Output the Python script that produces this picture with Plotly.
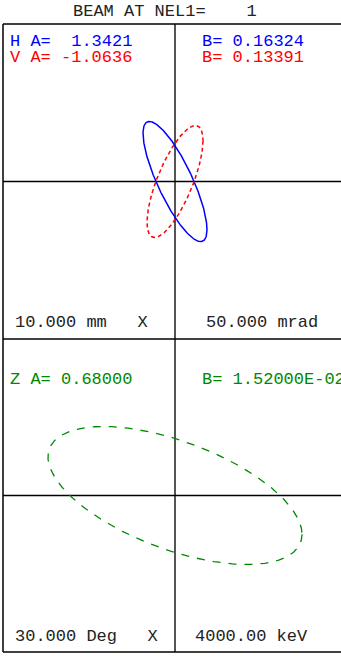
import numpy as np
import plotly.graph_objects as go

# Twiss parameters (alpha, beta) and emittances for each phase plane
h_alpha, h_beta, h_eps = 1.3421, 0.16324, 21.2      # mm, mrad
v_alpha, v_beta, v_eps = -1.0636, 0.13391, 19.8     # mm, mrad
z_alpha, z_beta, z_eps = 0.68000, 1.52000e-02, 32300.0  # deg, keV

# Full-scale half ranges of the two phase-space plots
x_scale_mm, xp_scale_mrad = 10.0, 50.0
z_scale_deg, dw_scale_kev = 30.0, 4000.0

nel = 1

W, H = 341, 658
# frame geometry in pixels
LEFT, CX, TOP, MID, BOT = 3, 175, 24, 339, 652
HALF_W = CX - LEFT


def px(x):
    return x / W


def py(y):
    return (H - y) / H


def ellipse(alpha, beta, eps, n=400):
    phi = np.linspace(0, 2 * np.pi, n)
    x = np.sqrt(eps * beta) * np.cos(phi)
    xp = -np.sqrt(eps / beta) * (alpha * np.cos(phi) + np.sin(phi))
    return x, xp


fig = go.Figure()

hx, hxp = ellipse(h_alpha, h_beta, h_eps)
vx, vxp = ellipse(v_alpha, v_beta, v_eps)
zx, zxp = ellipse(z_alpha, z_beta, z_eps)

fig.add_trace(go.Scatter(x=hx, y=hxp, mode="lines", xaxis="x", yaxis="y",
                         line=dict(color="#0000ff", width=1.5)))
fig.add_trace(go.Scatter(x=vx, y=vxp, mode="lines", xaxis="x", yaxis="y",
                         line=dict(color="#ff0000", width=1.5, dash="4px,3px")))
fig.add_trace(go.Scatter(x=zx, y=zxp, mode="lines", xaxis="x2", yaxis="y2",
                         line=dict(color="#008800", width=1.3, dash="8px,8px")))

right_frac = (W - CX) / HALF_W
hidden = dict(showgrid=False, zeroline=False, showticklabels=False,
              ticks="", showline=False, fixedrange=True)

fig.update_layout(
    width=W, height=H,
    margin=dict(l=0, r=0, t=0, b=0),
    paper_bgcolor="white", plot_bgcolor="white",
    showlegend=False,
    xaxis=dict(domain=[px(LEFT), 1], range=[-x_scale_mm, x_scale_mm * right_frac],
               anchor="y", **hidden),
    yaxis=dict(domain=[py(MID), py(TOP)], range=[-xp_scale_mrad, xp_scale_mrad],
               anchor="x", **hidden),
    xaxis2=dict(domain=[px(LEFT), 1], range=[-z_scale_deg, z_scale_deg * right_frac],
                anchor="y2", **hidden),
    yaxis2=dict(domain=[py(BOT), py(MID)], range=[-dw_scale_kev, dw_scale_kev],
                anchor="x2", **hidden),
)

shapes = []
black = dict(color="black", width=1.5)
# outer frame and panel divider
shapes.append(dict(type="line", xref="paper", yref="paper", x0=px(LEFT), x1=1,
                   y0=py(TOP), y1=py(TOP), line=black))
shapes.append(dict(type="line", xref="paper", yref="paper", x0=px(LEFT), x1=1,
                   y0=py(MID), y1=py(MID), line=black))
shapes.append(dict(type="line", xref="paper", yref="paper", x0=px(LEFT), x1=1,
                   y0=py(BOT), y1=py(BOT), line=black))
shapes.append(dict(type="line", xref="paper", yref="paper", x0=px(LEFT), x1=px(LEFT),
                   y0=py(TOP), y1=py(BOT), line=black))
# vertical centre line through both panels
shapes.append(dict(type="line", xref="x", yref="paper", x0=0, x1=0,
                   y0=py(TOP), y1=py(BOT), layer="below",
                   line=dict(color="#555555", width=2)))
# horizontal centre lines
shapes.append(dict(type="line", xref="paper", yref="y", x0=px(LEFT), x1=1,
                   y0=0, y1=0, layer="below", line=black))
shapes.append(dict(type="line", xref="paper", yref="y2", x0=px(LEFT), x1=1,
                   y0=0, y1=0, layer="below", line=black))
fig.update_layout(shapes=shapes)

FONT = "Liberation Mono, Courier New, monospace"
NB = "\u00a0"


def label(text, x, y, color, anchor="middle"):
    fig.add_annotation(text=text.replace(" ", NB), xref="paper", yref="paper",
                       x=px(x), y=py(y), xanchor="left", yanchor=anchor,
                       showarrow=False, borderpad=0,
                       font=dict(family=FONT, size=17, color=color))


label(f"BEAM AT NEL1=    {nel}", 72, 12, "#222222")
label(f"H A=  {h_alpha:.4f}", 9, 42, "#0000ff")
label(f"V A= {v_alpha:.4f}", 9, 57, "#ff0000")
label(f"B= {h_beta:.5f}", 201, 42, "#0000ff")
label(f"B= {v_beta:.5f}", 201, 57, "#ff0000")
label(f"{x_scale_mm:.3f} mm   X", 14, 322, "#222222")
label(f"{xp_scale_mrad:.3f} mrad", 205, 322, "#222222")
label(f"Z A= {z_alpha:.5f}", 9, 379, "#008800")
label(f"B= {z_beta:.5E}".replace("E-0", "E-0"), 201, 379, "#008800")
label(f"{z_scale_deg:.3f} Deg   X", 14, 636, "#222222")
label(f"{dw_scale_kev:.2f} keV", 194, 636, "#222222")
label(f"NEL1=    {nel}", 3, 654, "#000000", anchor="top")

fig.write_html("out.html")
